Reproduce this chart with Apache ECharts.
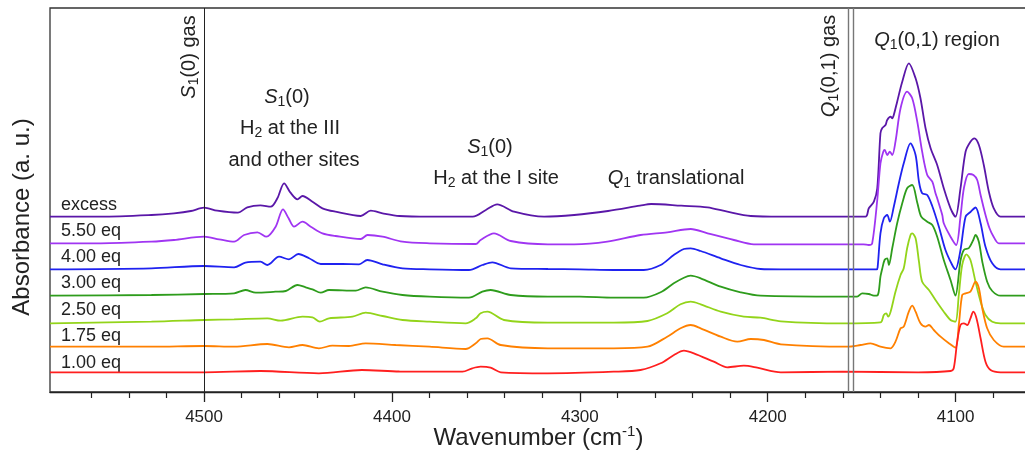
<!DOCTYPE html>
<html><head><meta charset="utf-8">
<script src="https://cdn.jsdelivr.net/npm/echarts@6/dist/echarts.min.js"></script>
<style>html,body{margin:0;padding:0;background:#fff}#c{width:1025px;height:452px}</style>
</head><body><div id="c"></div>
<script>
// ---------- data ----------
const seriesNames = ['excess', '5.50 eq', '4.00 eq', '3.00 eq', '2.50 eq', '1.75 eq', '1.00 eq'];
const seriesColors = ['#5a17a8', '#a035f2', '#1f22f0', '#2e9c1c', '#93d41a', '#ff8000', '#ff1f1f'];
// vertical stacking offset of each spectrum (a. u.)
const offsets = [1.753, 1.487, 1.227, 0.963, 0.687, 0.453, 0.197];
const majorTicks = [4100, 4200, 4300, 4400, 4500];
const minorTicks = [4080, 4120, 4140, 4160, 4180, 4220, 4240, 4260, 4280, 4320, 4340, 4360, 4380, 4420, 4440, 4460, 4480, 4520, 4540, 4560];
const gasS1Line = [4500];
const gasQ1Lines = [4157.3, 4154.3];

// spectra: [wavenumber (cm-1), absorbance above own baseline (a. u.)]
const specExcess = [[4582,0],[4555,0],[4528,0.017],[4516,0.034],[4507,0.057],[4500,0.09],[4493,0.06],[4482,0.04],[4477,0.094],[4470,0.114],[4464.5,0.10],[4461,0.184],[4457.4,0.334],[4454,0.24],[4450.3,0.174],[4447.6,0.207],[4442.3,0.15],[4437,0.084],[4430,0.05],[4416.6,0.007],[4411.3,0.06],[4405,0.034],[4396,0.007],[4380,0],[4357,0],[4350,0.067],[4344,0.124],[4335,0.05],[4319,0],[4303,0.017],[4285,0.057],[4268,0.11],[4262,0.127],[4246,0.11],[4232,0.094],[4221.5,0.05],[4209,0.007],[4193,0],[4148,0],[4146.2,0.084],[4143.5,0.15],[4141.7,0.284],[4140,0.834],[4139.1,0.884],[4137.3,0.917],[4136.4,0.967],[4134.6,1.0],[4133.7,0.984],[4132.9,1.017],[4131.1,1.15],[4128.4,1.35],[4124.9,1.534],[4121.3,1.384],[4118.7,1.184],[4116,0.884],[4113.3,0.684],[4109.8,0.517],[4106.3,0.284],[4102.7,0.084],[4100.1,0],[4097.4,0.284],[4094.7,0.65],[4092.1,0.75],[4090,0.784],[4087.6,0.717],[4085,0.517],[4082.3,0.25],[4079.7,0.084],[4076.1,0],[4062,0]];
const spec550 = [[4582,0],[4555,0],[4528,0.016],[4516,0.033],[4500,0.066],[4492,0.04],[4484,0.016],[4478.7,0.083],[4471.6,0.11],[4466.8,0.066],[4461.9,0.166],[4458,0.34],[4455,0.25],[4452.1,0.166],[4447.6,0.216],[4443.2,0.166],[4437,0.10],[4430,0.073],[4416.6,0.043],[4413,0.083],[4405,0.066],[4394.4,0.016],[4380,0],[4355.4,-0.007],[4352.8,0.033],[4345.7,0.10],[4336.8,0.023],[4317,-0.01],[4303,-0.01],[4285.4,0.016],[4267.7,0.083],[4253.5,0.11],[4241,0.143],[4232,0.10],[4218,0.033],[4207.4,-0.01],[4193,-0.01],[4149,-0.01],[4146.2,-0.017],[4144.4,0],[4141.7,0.433],[4140,0.8],[4138.5,0.916],[4137.7,0.933],[4136.4,0.883],[4135,0.916],[4133.7,0.883],[4132,1.016],[4129.3,1.35],[4125.8,1.516],[4123.1,1.45],[4120.4,1.216],[4117.8,0.916],[4115.1,0.683],[4112.4,0.616],[4110.7,0.5],[4109.8,0.45],[4107.1,0.283],[4106.3,0.2],[4102.7,0.066],[4099.7,-0.017],[4097.4,0.266],[4095.6,0.55],[4093,0.693],[4090.5,0.683],[4088.5,0.633],[4086.7,0.483],[4084.5,0.313],[4082,0.153],[4079.7,0.063],[4077,0],[4062,0]];
const spec400 = [[4582,0],[4528,0.01],[4500,0.033],[4484,0.02],[4478,0.066],[4470,0.076],[4466.3,0.043],[4460.1,0.126],[4454.8,0.10],[4449.8,0.153],[4444.1,0.11],[4437.9,0.053],[4426.4,0.053],[4417.5,0.05],[4413.1,0.093],[4405,0.05],[4394.4,0.01],[4380,0],[4359,-0.007],[4351.9,0.043],[4346.6,0.07],[4336.8,0.01],[4317,0.003],[4300,0],[4282,-0.007],[4266,-0.007],[4257,0.043],[4250,0.143],[4244.6,0.203],[4241,0.21],[4235.7,0.183],[4225,0.11],[4214.4,0.043],[4203.8,0.003],[4193,0],[4142,0],[4141.5,0.02],[4140,0.36],[4138.2,0.51],[4136.4,0.543],[4135,0.476],[4132.9,0.626],[4130.2,0.86],[4127.6,1.06],[4124,1.26],[4121.3,1.143],[4119.5,0.876],[4117.8,0.76],[4115.1,0.743],[4112.4,0.63],[4108.9,0.426],[4105.4,0.193],[4101.8,0.043],[4100.1,0],[4097.4,0.193],[4094.7,0.526],[4092.1,0.573],[4089.4,0.618],[4086.7,0.46],[4084.1,0.226],[4080.5,0.06],[4076.1,0],[4062,0]];
const spec300 = [[4582,0],[4528,0.007],[4500,0.017],[4484,0.024],[4478,0.057],[4472.5,0.03],[4462,0.04],[4456.5,0.047],[4450.3,0.107],[4445.9,0.084],[4442.3,0.064],[4437.9,0.03],[4433.5,0.057],[4419.3,0.05],[4414,0.084],[4405,0.04],[4394.4,0.007],[4380,-0.01],[4359,-0.02],[4351.9,0.04],[4347.5,0.057],[4336.8,0.007],[4317,-0.01],[4300,-0.01],[4282,-0.02],[4266,-0.02],[4257,0.034],[4250,0.124],[4244.6,0.18],[4241,0.20],[4235.7,0.174],[4225,0.09],[4214.4,0.034],[4203.8,0],[4160,-0.01],[4152.4,-0.01],[4149.7,0.024],[4146.2,0.017],[4143.5,0],[4141.4,0.007],[4140,0.19],[4139,0.274],[4137.8,0.357],[4136.4,0.374],[4135.5,0.307],[4133.7,0.477],[4131.1,0.724],[4128.4,0.924],[4125.8,1.074],[4123.1,1.107],[4120.4,0.93],[4118.3,0.79],[4115.1,0.74],[4112.4,0.707],[4109.8,0.59],[4106.3,0.357],[4102.7,0.157],[4100.1,0],[4097.4,0.35],[4095.6,0.457],[4092.9,0.477],[4090.6,0.557],[4089.4,0.607],[4087.6,0.537],[4085.8,0.34],[4083.2,0.14],[4080.5,0.047],[4076.1,0],[4062,0]];
const spec250 = [[4582,0],[4528,0.016],[4500,0.033],[4484,0.04],[4466.3,0.05],[4459.2,0.026],[4447.6,0.066],[4442.3,0.06],[4438.4,0.016],[4433.5,0.05],[4421,0.066],[4414,0.106],[4405,0.073],[4394.4,0.033],[4380,0.016],[4360.8,0],[4355.4,0.05],[4352.8,0.10],[4349.2,0.116],[4340.4,0.033],[4317,0.006],[4282,0.006],[4264,0.023],[4253.5,0.10],[4246.4,0.19],[4241,0.216],[4235.7,0.19],[4225,0.116],[4212.7,0.066],[4203.8,0.056],[4193,0.02],[4160,0],[4140,0.01],[4138.2,0.083],[4136.9,0.10],[4135.9,0.066],[4134.6,0.116],[4132,0.316],[4129.3,0.483],[4127.6,0.55],[4125.8,0.75],[4124,0.883],[4123.1,0.90],[4121.3,0.85],[4119.5,0.616],[4117.8,0.416],[4114.2,0.333],[4110.7,0.233],[4106.3,0.116],[4102.7,0.033],[4100.1,0.016],[4098.3,0.283],[4096.5,0.583],[4094.2,0.69],[4092.1,0.633],[4089.4,0.416],[4086.7,0.216],[4084.1,0.083],[4080.5,0.016],[4076.1,0],[4062,0]];
const spec175 = [[4582,0],[4528,0],[4500,0.007],[4484,0],[4466.3,0.027],[4454.8,-0.006],[4447.6,0.017],[4438.9,-0.016],[4431.7,0.01],[4422.9,0.007],[4414,0.034],[4398,0.017],[4380,0],[4360.8,-0.023],[4355.4,0.034],[4352.8,0.077],[4349.2,0.084],[4342.1,0.017],[4317,-0.016],[4282,-0.016],[4264,0],[4253.5,0.10],[4246.4,0.184],[4241,0.217],[4235.7,0.184],[4225,0.10],[4216.2,0.05],[4209,0.077],[4202,0.067],[4193,0.024],[4157.7,0],[4150.6,0.017],[4145.3,0.034],[4140,0],[4134.6,-0.016],[4132,0.05],[4129.3,0.184],[4127.6,0.2],[4124.9,0.35],[4123.1,0.41],[4121.3,0.35],[4118.7,0.234],[4116,0.2],[4114.2,0.217],[4111.6,0.167],[4108,0.10],[4103.6,0.034],[4100.1,-0.01],[4098.3,0.217],[4096.5,0.517],[4094.7,0.534],[4092.1,0.55],[4089.4,0.65],[4087.6,0.584],[4085.8,0.384],[4083.2,0.184],[4079.7,0.067],[4074.4,0],[4062,0]];
const spec100 = [[4582,0],[4500,0],[4470,0.013],[4438.9,-0.01],[4416,0.023],[4396,0.008],[4362.5,0.006],[4357.2,0.04],[4352.8,0.056],[4347.5,0.046],[4342.1,0],[4317,-0.01],[4282,0.006],[4267.7,0.023],[4257,0.09],[4249.9,0.173],[4244.6,0.216],[4239.3,0.19],[4228.7,0.106],[4221.5,0.05],[4212.7,0.066],[4205.6,0.046],[4193,0],[4160,0.006],[4120,0],[4102.7,0.013],[4101,0.04],[4099.2,0.30],[4097.4,0.473],[4095.6,0.49],[4093.8,0.473],[4092.1,0.54],[4090.6,0.606],[4088.9,0.54],[4086.7,0.34],[4084.1,0.106],[4081.4,0.023],[4076.1,0],[4062,0]];
const spectra = [specExcess, spec550, spec400, spec300, spec250, spec175, spec100];

// ---------- chart ----------
const FONT = "'Liberation Sans', Arial, sans-serif";
const TXT = '#222';
const chart = echarts.init(document.getElementById('c'), null, {renderer: 'canvas'});

const richAnn = {
  n: {fontSize: 20, fontFamily: FONT, fill: TXT, lineHeight: 24},
  i: {fontSize: 20, fontFamily: FONT, fontStyle: 'italic', fill: TXT, lineHeight: 24},
  s: {fontSize: 14, fontFamily: FONT, fill: TXT, lineHeight: 12, verticalAlign: 'bottom'}
};
function ann(text, x, y, rot) {
  return {type: 'text', x: x, y: y, rotation: rot || 0, silent: true,
    style: {text: text, rich: richAnn, align: 'center', verticalAlign: 'middle', fontSize: 20, fontFamily: FONT, fill: TXT}};
}
const seriesLabelY = [205, 231, 257, 283, 310, 336, 363];

const graphics = [
  ann('{i|S}{s|1}{n|(0) gas}', 189, 57, Math.PI / 2),
  ann('{i|S}{s|1}{n|(0)}', 287, 97),
  ann('{n|H}{s|2}{n| at the III}', 290, 128),
  ann('{n|and other sites}', 294, 160),
  ann('{i|S}{s|1}{n|(0)}', 490, 147),
  ann('{n|H}{s|2}{n| at the I site}', 496, 178),
  ann('{i|Q}{s|1}{n| translational}', 676, 178),
  ann('{i|Q}{s|1}{n|(0,1) gas}', 829, 66, Math.PI / 2),
  ann('{i|Q}{s|1}{n|(0,1) region}', 937, 40),
  {type: 'text', x: 22.5, y: 217, rotation: Math.PI / 2, silent: true,
   style: {text: 'Absorbance (a. u.)', align: 'center', verticalAlign: 'middle', fontSize: 24, fontFamily: FONT, fill: TXT}}
].concat(seriesNames.map((n, i) => ({type: 'text', x: 61, y: seriesLabelY[i], silent: true,
   style: {text: n, align: 'left', verticalAlign: 'middle', fontSize: 18, fontFamily: FONT, fill: TXT}})));

const series = seriesNames.map((n, i) => ({
  type: 'line', name: n, showSymbol: false, smooth: 0.3, silent: true, animation: false,
  data: spectra[i].map(p => [p[0], +(p[1] + offsets[i]).toFixed(4)]),
  lineStyle: {color: seriesColors[i], width: 1.8}, z: 3
}));
series[0].markLine = {
  silent: true, symbol: ['none', 'none'], label: {show: false}, animation: false,
  data: gasS1Line.map(v => ({xAxis: v, lineStyle: {color: '#222', width: 1, type: 'solid'}}))
    .concat(gasQ1Lines.map(v => ({xAxis: v, lineStyle: {color: '#777', width: 1.4, type: 'solid'}})))
};

chart.setOption({
  animation: false,
  backgroundColor: '#fff',
  grid: {left: 50, top: 8, width: 977, height: 384, outerBoundsMode: 'none', containLabel: false,
    show: true, borderColor: '#333', borderWidth: 1.3, backgroundColor: 'transparent'},
  xAxis: [{
    type: 'value', inverse: true, min: 4062, max: 4582, position: 'bottom',
    axisLine: {lineStyle: {color: '#222', width: 1.3}},
    axisTick: {customValues: majorTicks, length: 10, lineStyle: {color: '#222', width: 1.3}},
    axisLabel: {customValues: majorTicks, fontSize: 17, color: TXT, fontFamily: FONT, margin: 17,
      formatter: v => String(v)},
    splitLine: {show: false},
    name: '{n|Wavenumber (cm}{sup|-1}{n|)}', nameLocation: 'middle', nameGap: 32, nameMoveOverlap: false,
    nameTextStyle: {fontSize: 24, fontFamily: FONT, color: TXT,
      rich: {n: {fontSize: 24, fontFamily: FONT, color: TXT, lineHeight: 28},
             sup: {fontSize: 15, fontFamily: FONT, color: TXT, lineHeight: 14, verticalAlign: 'top'}}}
  }, {
    type: 'value', inverse: true, min: 4062, max: 4582, position: 'bottom',
    axisLine: {show: false},
    axisTick: {customValues: minorTicks, length: 6, lineStyle: {color: '#222', width: 1.2}},
    axisLabel: {show: false}, splitLine: {show: false}
  }],
  yAxis: {type: 'value', min: 0, max: 3.84, axisLine: {show: false}, axisTick: {show: false},
    axisLabel: {show: false}, splitLine: {show: false}},
  graphic: {elements: graphics},
  series: series
});
</script></body></html>
